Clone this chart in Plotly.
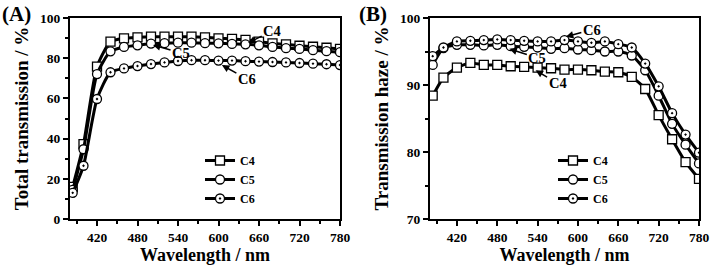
import plotly.graph_objects as go

# ---------------- data ----------------
wavelength = [384, 400, 420, 440, 460, 480, 500, 520, 540, 560, 580,
              600, 620, 640, 660, 680, 700, 720, 740, 760, 780]

# Panel A: total transmission (%)
tt_c4 = [16.0, 37.3, 75.8, 88.2, 89.9, 90.4, 90.7, 90.7, 90.7, 90.7, 90.4,
         89.9, 89.6, 89.1, 88.2, 87.4, 86.9, 86.2, 85.7, 85.2, 84.6]
tt_c5 = [14.5, 34.7, 72.1, 83.4, 85.6, 86.4, 87.3, 87.5, 87.7, 87.7, 87.5,
         87.4, 87.1, 86.9, 86.4, 85.6, 85.0, 84.6, 84.0, 83.5, 83.0]
tt_c6 = [13.0, 26.5, 59.7, 73.0, 74.9, 76.1, 77.1, 77.9, 78.6, 79.0, 79.0,
         78.8, 78.8, 78.5, 78.3, 78.1, 77.9, 77.6, 77.3, 77.0, 76.6]

# Panel B: transmission haze (%)
th_c4 = [88.4, 91.1, 92.6, 93.3, 93.0, 93.0, 92.8, 92.7, 92.6, 92.5, 92.3,
         92.3, 92.2, 92.0, 91.9, 91.2, 89.4, 85.5, 81.9, 78.5, 76.0]
th_c5 = [93.0, 95.5, 96.0, 96.0, 95.9, 96.0, 95.8, 95.7, 95.6, 95.4, 95.5,
         95.3, 95.2, 95.0, 95.0, 94.4, 92.2, 88.4, 84.2, 81.1, 78.3]
th_c6 = [94.3, 95.6, 96.5, 96.6, 96.7, 96.8, 96.7, 96.6, 96.5, 96.5, 96.7,
         96.5, 96.3, 96.5, 96.1, 95.6, 93.2, 89.8, 85.8, 82.6, 79.9]

series_names = ["C4", "C5", "C6"]
symbols = ["square", "circle", "circle-dot"]

FONT = "Liberation Serif, Times New Roman, serif"

fig = go.Figure()

def add_series(ys, xaxis, yaxis, legend, showlegend=True):
    for name, y, sym in zip(series_names, ys, symbols):
        fig.add_trace(go.Scatter(
            x=wavelength, y=y, name=name, mode="lines+markers",
            line=dict(color="black", width=3, shape="spline", smoothing=0.6),
            marker=dict(symbol=sym, size=9, color="white",
                        line=dict(color="black", width=1.3)),
            xaxis=xaxis, yaxis=yaxis, legend=legend, showlegend=showlegend,
        ))

add_series([tt_c4, tt_c5, tt_c6], "x", "y", "legend")
add_series([th_c4, th_c5, th_c6], "x2", "y2", "legend2")

W, H = 711, 267
ydom = [1 - 219 / H, 1 - 18 / H]

axis_common = dict(
    showline=True, linecolor="black", linewidth=2, mirror=True,
    ticks="outside", ticklen=5, tickwidth=2, tickcolor="black",
    showgrid=False, zeroline=False, automargin=False,
    tickfont=dict(family=FONT, size=13.5, color="black", weight="bold"),
)

xaxis_common = dict(axis_common, range=[380, 780], tick0=420, dtick=60,
                    minor=dict(ticks="outside", ticklen=3, tickwidth=1.5,
                               tickcolor="black", dtick=30, tick0=390),
                    title=dict(text="Wavelength / nm", standoff=2,
                               font=dict(family=FONT, size=18, color="black", weight="bold")))

fig.update_layout(
    template="none",
    width=W, height=H,
    margin=dict(l=0, r=0, t=0, b=0, autoexpand=False),
    paper_bgcolor="white", plot_bgcolor="white",
    font=dict(family=FONT, color="black"),
    xaxis=dict(xaxis_common, domain=[70 / W, 340 / W], anchor="y"),
    xaxis2=dict(xaxis_common, domain=[430 / W, 699 / W], anchor="y2"),
    yaxis=dict(axis_common, domain=ydom, anchor="x", range=[0, 100], dtick=20,
               minor=dict(ticks="outside", ticklen=3, tickwidth=1.5,
                          tickcolor="black", dtick=10),
               title=dict(text="Total transmission / %", standoff=6,
                          font=dict(family=FONT, size=19, color="black", weight="bold"))),
    yaxis2=dict(axis_common, domain=ydom, anchor="x2", range=[70, 100], dtick=10,
                minor=dict(ticks="outside", ticklen=3, tickwidth=1.5,
                           tickcolor="black", dtick=5),
                title=dict(text="Transmission haze / %", standoff=6,
                           font=dict(family=FONT, size=19, color="black", weight="bold"))),
    legend=dict(x=200 / W, y=1 - 146 / H, xanchor="left", yanchor="top",
                bgcolor="rgba(0,0,0,0)", tracegroupgap=0, itemwidth=30,
                font=dict(family=FONT, size=12, color="black", weight="bold")),
    legend2=dict(x=553 / W, y=1 - 146 / H, xanchor="left", yanchor="top",
                 bgcolor="rgba(0,0,0,0)", tracegroupgap=0, itemwidth=30,
                 font=dict(family=FONT, size=12, color="black", weight="bold")),
)

# series labels with arrows
labels = [
    ("x", "y", 644, 87.6, 24, -12, "C4"),
    ("x", "y", 503, 86.6, 28, 8, "C5"),
    ("x", "y", 605, 76.6, 25, 14, "C6"),
    ("x2", "y2", 582, 97.2, 26, -7, "C6"),
    ("x2", "y2", 498, 95.4, 28, 9, "C5"),
    ("x2", "y2", 537, 92.2, 22, 13, "C4"),
]
for xr, yr, x, y, ax, ay, t in labels:
    fig.add_annotation(xref=xr, yref=yr, x=x, y=y, ax=ax, ay=ay, text=t,
                       showarrow=True, arrowhead=2, arrowsize=1, arrowwidth=1.5,
                       arrowcolor="black",
                       font=dict(family=FONT, size=14.5, color="black", weight="bold"))

# panel letters
for xp, t in [(0, "(A)"), (357, "(B)")]:
    fig.add_annotation(xref="paper", yref="paper", x=xp / W, y=1.0,
                       xanchor="left", yanchor="top", showarrow=False, text=t,
                       font=dict(family=FONT, size=21, color="black", weight="bold"))

fig.write_html("out.html",
               config={"displayModeBar": False},
               post_script="document.body.style.margin='0';"
                           "document.body.style.overflow='hidden';")
